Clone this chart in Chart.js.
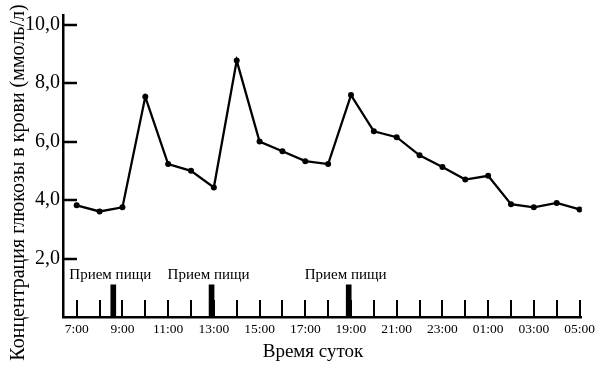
<!DOCTYPE html>
<html>
<head>
<meta charset="utf-8">
<script src="https://cdn.jsdelivr.net/npm/chart.js@4/dist/chart.umd.min.js"></script>
<style>
  html, body { margin: 0; padding: 0; background: #fff; }
</style>
</head>
<body>
<canvas id="glucose" width="599" height="368"></canvas>
<script>
// hourly readings, 7:00 today -> 05:00 next day (hours past midnight)
const hours = [7, 8, 9, 10, 11, 12, 13, 14, 15, 16, 17, 18, 19, 20, 21, 22, 23, 24, 25, 26, 27, 28, 29];
const glucose = [3.82, 3.61, 3.75, 7.53, 5.23, 5.0, 4.43, 8.77, 6.0, 5.67, 5.33, 5.23, 7.59, 6.35, 6.15, 5.53, 5.13, 4.7, 4.83, 3.86, 3.75, 3.9, 3.68];

// meals
const mealHours = [8.6, 12.9, 18.9];
const mealMarks = [1.1, 1.1, 1.1];
const mealLabel = "Прием пищи";

const xTickHours = [7, 9, 11, 13, 15, 17, 19, 21, 23, 25, 27, 29];
const xTickLabels = ["7:00", "9:00", "11:00", "13:00", "15:00", "17:00", "19:00", "21:00", "23:00", "01:00", "03:00", "05:00"];
const yTicks = [2, 4, 6, 8, 10];

const xTitle = "Время суток";
const yTitle = "Концентрация глюкозы в крови (ммоль/л)";

const serif = "'Liberation Serif', 'DejaVu Serif', serif";

// hour tick marks (pointing up), inner y ticks, meal captions and axis titles
const axisMarks = {
  id: "axisMarks",
  afterDatasetsDraw(chart) {
    const { ctx, chartArea, scales: { x, y } } = chart;
    ctx.save();
    ctx.strokeStyle = "#000";
    ctx.fillStyle = "#000";

    ctx.lineWidth = 2;
    hours.forEach((h) => {
      const px = Math.round(x.getPixelForValue(h));
      ctx.beginPath();
      ctx.moveTo(px, chartArea.bottom);
      ctx.lineTo(px, chartArea.bottom - 17);
      ctx.stroke();
    });

    ctx.lineWidth = 2.5;
    yTicks.forEach((v) => {
      const py = Math.round(y.getPixelForValue(v));
      ctx.beginPath();
      ctx.moveTo(chartArea.left, py);
      ctx.lineTo(chartArea.left + 14, py);
      ctx.stroke();
    });

    ctx.font = "15px " + serif;
    ctx.textAlign = "center";
    ctx.textBaseline = "alphabetic";
    mealHours.forEach((h, i) => {
      ctx.fillText(mealLabel, x.getPixelForValue(h) - 3, y.getPixelForValue(mealMarks[i]) - 6);
    });

    ctx.font = "19px " + serif;
    ctx.fillText(xTitle, 313, 357);

    ctx.font = "20px " + serif;
    ctx.translate(24, 182.5);
    ctx.rotate(-Math.PI / 2);
    ctx.fillText(yTitle, 0, 0);
    ctx.restore();
  },
};

new Chart(document.getElementById("glucose"), {
  type: "line",
  data: {
    datasets: [
      {
        type: "line",
        data: hours.map((h, i) => ({ x: h, y: glucose[i] })),
        borderColor: "#000",
        borderWidth: 2.3,
        pointRadius: 3,
        pointBackgroundColor: "#000",
        pointBorderWidth: 0,
        tension: 0,
      },
      {
        type: "bar",
        data: mealHours.map((h, i) => ({ x: h, y: mealMarks[i] })),
        backgroundColor: "#000",
        barThickness: 5,
      },
    ],
  },
  options: {
    responsive: false,
    animation: false,
    layout: { padding: { top: 8, right: 16 } },
    plugins: {
      legend: { display: false },
      tooltip: { enabled: false },
    },
    scales: {
      x: {
        type: "linear",
        min: 6.4,
        max: 29.1,
        offset: false,
        afterFit(s) {
          s.height = 51;
        },
        afterBuildTicks(s) {
          s.ticks = xTickHours.map((v) => ({ value: v }));
        },
        grid: { display: false, drawTicks: false },
        border: { display: true, color: "#000", width: 2.5 },
        ticks: {
          color: "#000",
          font: { family: serif, size: 13.5 },
          padding: 4,
          maxRotation: 0,
          autoSkip: false,
          callback: (v) => xTickLabels[xTickHours.indexOf(v)],
        },
      },
      y: {
        min: 0,
        max: 10.33,
        afterFit(s) {
          s.width = 63;
        },
        afterBuildTicks(s) {
          s.ticks = yTicks.map((v) => ({ value: v }));
        },
        grid: { display: false, drawTicks: false },
        border: { display: true, color: "#000", width: 2.5 },
        ticks: {
          color: "#000",
          font: { family: serif, size: 20 },
          padding: 3,
          callback: (v) => v.toFixed(1).replace(".", ","),
        },
      },
    },
  },
  plugins: [axisMarks],
});
</script>
</body>
</html>
